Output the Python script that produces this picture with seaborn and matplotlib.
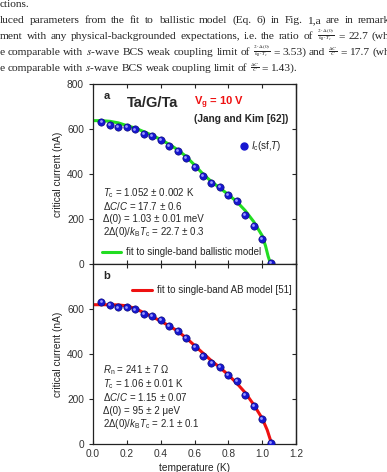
import numpy as np
import pandas as pd
import matplotlib.pyplot as plt
import seaborn as sns
from matplotlib.lines import Line2D
from matplotlib.transforms import ScaledTranslation

sns.set_style('ticks')
plt.rcParams['font.family'] = ['Liberation Sans', 'DejaVu Sans']
plt.rcParams['mathtext.fontset'] = 'custom'
plt.rcParams['mathtext.rm'] = 'Liberation Sans'
plt.rcParams['mathtext.it'] = 'Liberation Sans:italic'
plt.rcParams['mathtext.bf'] = 'Liberation Sans:bold'

# measured Ic(sf,T), Ta/G/Ta, Vg = 10 V
temperature = [0.05, 0.10, 0.15, 0.20, 0.25, 0.30, 0.35, 0.40, 0.45, 0.50, 0.55,
               0.60, 0.65, 0.70, 0.75, 0.80, 0.85, 0.90, 0.95, 1.00, 1.05]
ic_data = [630, 618, 607, 607, 598, 578, 570, 551, 525, 501, 470,
           430, 390, 359, 341, 308, 280, 219, 169, 110, 3]

# ballistic model fit (panel a)
t_fit_a = [0.0, 0.05, 0.10, 0.15, 0.20, 0.25, 0.30, 0.35, 0.40, 0.45, 0.50, 0.55,
           0.60, 0.65, 0.70, 0.75, 0.80, 0.85, 0.90, 0.95, 1.00, 1.02, 1.035, 1.045, 1.052]
ic_fit_a = [637, 637, 634, 627, 615, 604, 588, 572, 553, 532, 508, 478,
            440, 400, 366, 338, 308, 277, 237, 188, 126, 80, 35, 12, 0]

# AB model fit (panel b)
t_fit_b = [0.0, 0.05, 0.10, 0.15, 0.20, 0.25, 0.30, 0.35, 0.40, 0.45, 0.50, 0.55,
           0.60, 0.65, 0.70, 0.75, 0.80, 0.85, 0.90, 0.95, 1.00, 1.03, 1.05, 1.06]
ic_fit_b = [619, 619, 619, 618, 614, 602, 584, 566, 546, 525, 502, 472,
            438, 404, 370, 340, 307, 270, 228, 175, 114, 62, 15, 0]

data = pd.DataFrame({'T': temperature, 'Ic': ic_data})
fit_a = pd.DataFrame({'T': t_fit_a, 'Ic': ic_fit_a})
fit_b = pd.DataFrame({'T': t_fit_b, 'Ic': ic_fit_b})

fs = 7.3
ts = 7.0
blue = '#1616d0'
green = '#22dd22'
red = '#ee1111'

fig = plt.figure(figsize=(3.87, 4.72), dpi=100)
ax_a = fig.add_axes([93/387, 0.4407, 203/387, 0.3814])
ax_b = fig.add_axes([93/387, 0.0593, 203/387, 0.3814])
renderer = fig.canvas.get_renderer()

# paper text above the figure (justified lines, cut at the page edge)
serif = ['Liberation Serif', 'DejaVu Serif']
frac_dt = r'$\frac{2\cdot\Delta(0)}{k_B\cdot T_c}$'
frac_c = r'$\frac{\Delta C}{C}$'
header = [
    ('ctions.', None),
    ('luced parameters from the fit to ballistic model (Eq. 6) in Fig. 1,a are in remarkable', 358),
    ('ment with any physical-backgrounded expectations, i.e. the ratio of FDT = 22.7 (which', 372),
    ('e comparable with $s$-wave BCS weak coupling limit of FDT = 3.53) and FC = 17.7 (which', 372),
    ('e comparable with $s$-wave BCS weak coupling limit of FC = 1.43).', None),
]


def place_line(y_px, line, last_start):
    items = []
    for word in line.split(' '):
        if word in ('FDT', 'FC'):
            s = frac_dt if word == 'FDT' else frac_c
            t = fig.text(0, 0, s, fontsize=5.4, family=serif, va='center',
                         color='#222222', math_fontfamily='stix')
            t.dy = 3.3
        else:
            t = fig.text(0, 0, word, fontsize=8.2, family=serif, va='baseline',
                         color='#222222', math_fontfamily='stix')
            t.dy = 0
        items.append(t)
    widths = [t.get_window_extent(renderer).width for t in items]
    gap = 2.4
    if last_start is not None:
        gap = (last_start - sum(widths[:-1])) / (len(items) - 1)
    x = 0.0
    for t, w in zip(items, widths):
        t.set_position((x / 387, 1 - (y_px - t.dy) / 472))
        x += w + gap


for i, (line, last_start) in enumerate(header):
    place_line(7 + 16*i, line, last_start)

for ax, fit, col in [(ax_a, fit_a, green), (ax_b, fit_b, red)]:
    sns.lineplot(data=fit, x='T', y='Ic', color=col, lw=2.2, ax=ax, legend=False)
    sns.scatterplot(data=data, x='T', y='Ic', color=blue, s=28, edgecolor='#08086a',
                    linewidth=0.4, ax=ax, legend=False, zorder=3)
    # small highlight to give the spheres some shading
    shine = ax.transData + ScaledTranslation(-0.9/100, 0.9/100, fig.dpi_scale_trans)
    sns.scatterplot(data=data, x='T', y='Ic', color='#9a9aff', s=4, linewidth=0,
                    ax=ax, legend=False, zorder=4, transform=shine)
    ax.set_xlim(0, 1.2)
    ax.set_ylim(0, 800)
    ax.set_xticks(np.arange(0, 1.21, 0.2))
    ax.set_yticks(np.arange(0, 801, 200))
    ax.set_ylabel('critical current (nA)', fontsize=fs, color='#222222', labelpad=3)
    ax.tick_params(axis='both', labelsize=fs, labelcolor='#333333', width=0.8, length=3)
    ax.tick_params(axis='y', direction='out', right=False)
    ax.tick_params(axis='x', direction='in', top=True)
    for sp in ax.spines.values():
        sp.set_visible(True)
        sp.set_linewidth(0.9)
        sp.set_color('#222222')
    # right ticks point inward
    sec = ax.secondary_yaxis('right')
    sec.set_yticks(np.arange(0, 801, 200))
    sec.tick_params(direction='in', labelright=False, length=3, width=0.8)
    sec.spines['right'].set_linewidth(0.9)

ax_a.tick_params(axis='x', labelbottom=False)
ax_a.set_xlabel('')
ax_b.set_yticks(np.arange(0, 601, 200))
ax_b.set_xticklabels(['0.0', '0.2', '0.4', '0.6', '0.8', '1.0', '1.2'])
ax_b.set_xlabel('temperature (K)', fontsize=fs, color='#222222', labelpad=3)

# panel a texts
ax_a.text(0.05, 0.935, 'a', transform=ax_a.transAxes, fontsize=8, fontweight='bold', va='center')
ax_a.text(0.165, 0.895, 'Ta/G/Ta', transform=ax_a.transAxes, fontsize=10.5, fontweight='bold', va='center')
ax_a.text(0.50, 0.895, r'$\mathbf{V_g}$ = 10 V', transform=ax_a.transAxes, fontsize=8,
          fontweight='bold', color=red, va='center')
ax_a.text(0.50, 0.805, '(Jang and Kim [62])', transform=ax_a.transAxes, fontsize=7.3,
          fontweight='bold', va='center')

params_a = [r'$T_\mathrm{c}$ = 1.052 ± 0.002 K',
            r'Δ$C/C$ = 17.7 ± 0.6',
            'Δ(0) = 1.03 ± 0.01 meV',
            r'2Δ(0)/$k_\mathrm{B}T_\mathrm{c}$ = 22.7 ± 0.3']
for i, s in enumerate(params_a):
    ax_a.text(0.05, 0.395 - i*0.073, s, transform=ax_a.transAxes, fontsize=ts, va='center')

leg1 = ax_a.legend([Line2D([], [], ls='', marker='o', color=blue, markersize=5)],
                   [r'$I_\mathrm{c}$(sf,$T$)'], loc='center left', frameon=False,
                   bbox_to_anchor=(0.67, 0.655), fontsize=ts, handletextpad=0.2,
                   handlelength=1.2)
ax_a.add_artist(leg1)
ax_a.legend([Line2D([], [], color=green, lw=2.2)], ['fit to single-band ballistic model'],
            loc='center left', frameon=False, bbox_to_anchor=(0.0, 0.067), fontsize=ts,
            handlelength=2.0, handletextpad=0.5)

# panel b texts
ax_b.text(0.05, 0.935, 'b', transform=ax_b.transAxes, fontsize=8, fontweight='bold', va='center')
ax_b.legend([Line2D([], [], color=red, lw=2.2)], ['fit to single-band AB model [51]'],
            loc='center left', frameon=False, bbox_to_anchor=(0.15, 0.856), fontsize=ts,
            handlelength=2.0, handletextpad=0.5)
params_b = [r'$R_\mathrm{n}$ = 241 ± 7 Ω',
            r'$T_\mathrm{c}$ = 1.06 ± 0.01 K',
            r'Δ$C/C$ = 1.15 ± 0.07',
            'Δ(0) = 95 ± 2 μeV',
            r'2Δ(0)/$k_\mathrm{B}T_\mathrm{c}$ = 2.1 ± 0.1']
for i, s in enumerate(params_b):
    ax_b.text(0.05, 0.41 - i*0.075, s, transform=ax_b.transAxes, fontsize=ts, va='center')

fig.savefig('out.png', dpi=100)
